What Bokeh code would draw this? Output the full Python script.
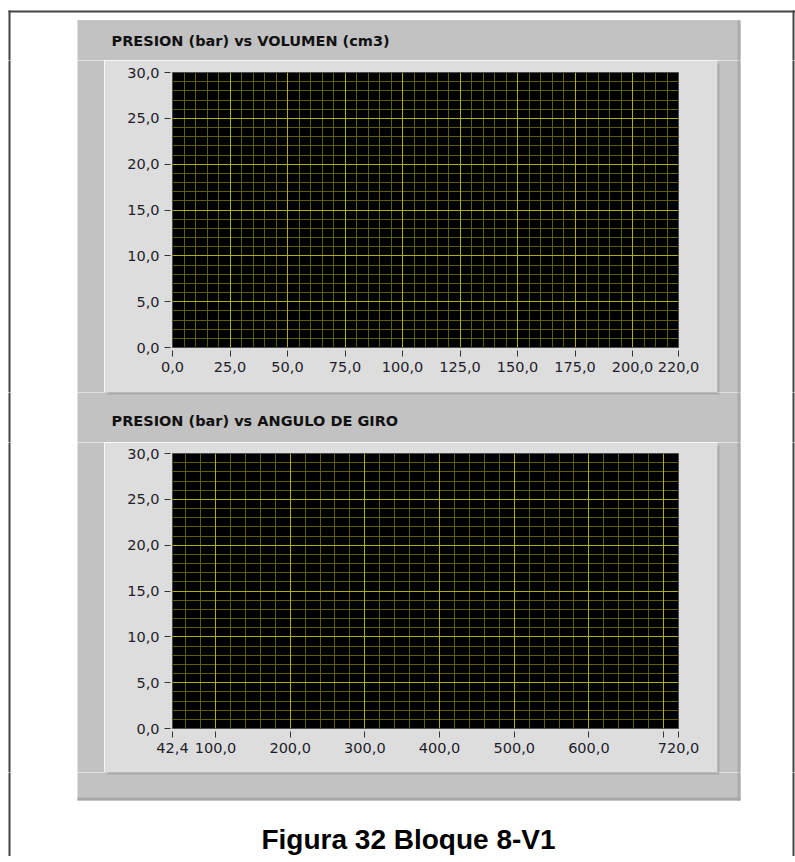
from bokeh.plotting import figure
from bokeh.models import Range1d, FixedTicker, Grid
from bokeh.layouts import column, row
from bokeh.core.properties import value
from bokeh.embed import file_html
from bokeh.resources import INLINE

# ---------------- data ----------------
titles = ["PRESION (bar) vs VOLUMEN (cm3)", "PRESION (bar) vs ANGULO DE GIRO"]
caption = "Figura 32 Bloque 8-V1"

vol_range = [0, 220]
vol_ticks = [0, 25, 50, 75, 100, 125, 150, 175, 200, 220]
vol_labels = ["0,0", "25,0", "50,0", "75,0", "100,0", "125,0", "150,0", "175,0", "200,0", "220,0"]
vol_minor_step = 5

ang_range = [42.4, 720]
ang_ticks = [42.4, 100, 200, 300, 400, 500, 600, 700, 720]
ang_labels = ["42,4", "100,0", "200,0", "300,0", "400,0", "500,0", "600,0", "", "720,0"]
ang_minor_step = 20

pres_range = [0, 30]
pres_ticks = [0, 5, 10, 15, 20, 25, 30]
pres_labels = ["0,0", "5,0", "10,0", "15,0", "20,0", "25,0", "30,0"]
pres_minor_step = 1

# ---------------- layout / style (page pixels) ----------------
W, H = 795, 856
BOX_L, BOX_R = 104, 717
BOX1_T, BOX1_B = 60, 392
BOX2_T, BOX2_B = 442, 772
PAN_L, PAN_R, PAN_T, PAN_B = 77, 740, 20, 800
FRAME_L, FRAME_R = 172, 678
PANEL = "#c2c2c2"
BOX = "#dddddd"
MAJOR = "#b0b000"
MINOR = "#5e5e00"
FONT = "DejaVu Sans"
TXT = "#1e1e2a"
LINE = "#444444"
TITLE_POS = [(111, 40), (111, 420)]
CAPTION_POS = (408, 839)


def minor_list(lo, hi, step, majors):
    out = []
    k = int(lo // step) + 1
    while k * step < hi:
        v = k * step
        if all(abs(v - m) > 1e-9 for m in majors):
            out.append(v)
        k += 1
    return out


def draw_page(p, y0, y1):
    """Page decoration in page-pixel coordinates; each strip shows its own window."""
    def q(l, r, t, b, c):
        p.quad(left=[l], right=[r], top=[t], bottom=[b], fill_color=c, line_color=None)
    # outer frame lines
    q(8, W, 10, 12, LINE)
    q(8, 10, 10, H + 8, LINE)
    q(792, 794, 10, H + 8, LINE)
    # gray panel
    q(PAN_L, PAN_R, PAN_T, PAN_B, PANEL)
    q(PAN_L, PAN_R, PAN_T, PAN_T + 1, "#b2b2b2")
    q(PAN_R - 3, PAN_R, PAN_T, PAN_B, "#ababab")
    q(PAN_L, PAN_R, PAN_B - 3, PAN_B, "#a6a6a6")
    # chart boxes with shadow and border
    for t, b in ((BOX1_T, BOX1_B), (BOX2_T, BOX2_B)):
        q(BOX_L + 3, BOX_R + 2, t + 3, b + 2, "#a9a9a9")
        q(BOX_L, BOX_R, t, b, "#9a9a9a")
        q(BOX_L + 1, BOX_R - 1, t + 1, b - 1, BOX)
    # titles and caption (only in the strip that holds them)
    for (tx, ty), txt in zip(TITLE_POS, titles):
        if y0 <= ty <= y1:
            p.text(x=[tx], y=[ty], text=[txt], text_font=value(FONT),
                   text_font_style="bold", text_font_size="14.5px", text_color="#111111",
                   text_baseline="middle", text_align="left")
    cx, cy = CAPTION_POS
    if y0 <= cy <= y1:
        p.text(x=[cx], y=[cy], text=[caption], text_font=value("Liberation Sans"),
               text_font_style="bold", text_font_size="28px", text_color="black",
               text_baseline="middle", text_align="center")


def strip(x0, x1, y0, y1):
    p = figure(width=x1 - x0, height=y1 - y0, output_backend="svg", toolbar_location=None,
               title=None, x_range=Range1d(x0, x1), y_range=Range1d(y1, y0),
               x_axis_location=None, y_axis_location=None,
               min_border=0, min_border_left=0, min_border_right=0,
               min_border_top=0, min_border_bottom=0, frame_align=False,
               outline_line_color=None, background_fill_color="white",
               border_fill_color="white")
    p.grid.visible = False
    draw_page(p, y0, y1)
    return p


def make_chart(xr, xt, xl, xstep, box_t, box_b, frame_top):
    frame_bot = frame_top + 275
    p = figure(width=BOX_R - BOX_L, height=box_b - box_t, output_backend="svg",
               toolbar_location=None, title=None, frame_align=False,
               x_range=Range1d(*xr), y_range=Range1d(*pres_range),
               min_border_left=FRAME_L - BOX_L, min_border_right=BOX_R - FRAME_R,
               min_border_top=frame_top - box_t, min_border_bottom=box_b - frame_bot,
               background_fill_color="black", border_fill_color=BOX,
               outline_line_color="#4d4d4d")
    xtick = FixedTicker(ticks=xt, minor_ticks=minor_list(xr[0], xr[1], xstep, xt))
    ytick = FixedTicker(ticks=pres_ticks,
                        minor_ticks=minor_list(pres_range[0], pres_range[1], pres_minor_step, pres_ticks))
    p.xaxis.ticker = xtick
    p.yaxis.ticker = ytick
    p.xaxis.major_label_overrides = dict(zip(xt, xl))
    p.yaxis.major_label_overrides = dict(zip(pres_ticks, pres_labels))
    for ax in (p.xaxis, p.yaxis):
        ax.axis_line_color = None
        ax.major_tick_line_color = "#333333"
        ax.minor_tick_line_color = None
        ax.major_label_text_font = FONT
        ax.major_label_text_font_size = "14.5px"
        ax.major_label_text_color = TXT
        ax.major_label_standoff = 5
    p.xaxis.major_tick_in = -3
    p.xaxis.major_tick_out = 9
    p.yaxis.major_tick_in = -2
    p.yaxis.major_tick_out = 8
    # minor grids first, majors on top
    p.xgrid.ticker = xtick
    p.ygrid.ticker = ytick
    for g in (p.xgrid, p.ygrid):
        g.grid_line_color = None
        g.minor_grid_line_color = MINOR
        g.minor_grid_line_width = 1
    p.add_layout(Grid(dimension=0, ticker=xtick, grid_line_color=MAJOR, grid_line_width=1))
    p.add_layout(Grid(dimension=1, ticker=ytick, grid_line_color=MAJOR, grid_line_width=1))
    return p


chart1 = make_chart(vol_range, vol_ticks, vol_labels, vol_minor_step, BOX1_T, BOX1_B, 72)
chart2 = make_chart(ang_range, ang_ticks, ang_labels, ang_minor_step, BOX2_T, BOX2_B, 453)

layout = column(
    strip(0, W, 0, BOX1_T),
    row(strip(0, BOX_L, BOX1_T, BOX1_B), chart1, strip(BOX_R, W, BOX1_T, BOX1_B),
        spacing=0, width=W),
    strip(0, W, BOX1_B, BOX2_T),
    row(strip(0, BOX_L, BOX2_T, BOX2_B), chart2, strip(BOX_R, W, BOX2_T, BOX2_B),
        spacing=0, width=W),
    strip(0, W, BOX2_B, H),
    spacing=0,
)
open("out.html", "w").write(file_html(layout, INLINE))
